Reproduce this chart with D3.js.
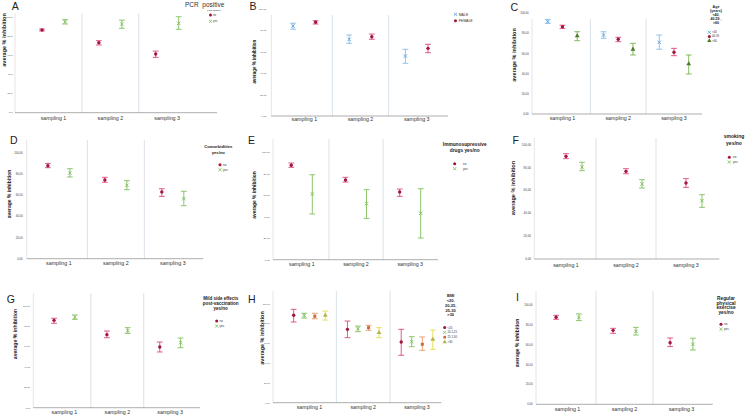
<!DOCTYPE html>
<html>
<head>
<meta charset="utf-8">
<script src="https://cdn.jsdelivr.net/npm/d3@7"></script>
<style>
body{margin:0;background:#fff}
svg{display:block;font-family:"Liberation Sans",Arial,sans-serif}
</style>
</head>
<body>
<svg id="fig" width="745" height="415"></svg>
<script>
// categories and tick values
var samplings = ["sampling 1", "sampling 2", "sampling 3"];
var yTicks = [0, 20, 40, 60, 80, 100];
var yesNo = ["no", "yes"];
var sexLabels = ["MALE", "FEMALE"];
var ageLabels = ["<40", "40-59", ">60"];
var bmiLabels = ["<20", "20.1-25", "25.1-30", ">30"];

// each entry: [mean, lower CI, upper CI] per sampling
var pcrNo = [[86.7, 85.7, 87.7], [73.4, 71, 75.5], [61.5, 58, 64.6]];
var pcrYes = [[95.4, 93, 97.5], [93, 88.5, 97], [93.7, 87.4, 100.6]];
var sexMale = [[84.3, 81.3, 86.9], [71.9, 68.1, 75.9], [56.2, 49.4, 62.5]];
var sexFemale = [[87.8, 86.2, 89.3], [74.3, 71.9, 76.8], [63.4, 59.3, 67.2]];
var ageUnder40 = [[91.7, 90, 94], [78.4, 75.2, 81.7], [71.2, 64.3, 78.4]];
var age40to59 = [[86.7, 85, 88.2], [74.2, 71.8, 76.2], [61.3, 57.9, 65.2]];
var ageOver60 = [[77.5, 72.8, 81.7], [64.2, 58.6, 70.2], [49.7, 39.7, 58.6]];
var comorbNo = [[88, 86.1, 90.1], [74.5, 72.3, 77], [63.1, 59, 66.2]];
var comorbYes = [[81.1, 77.3, 85.1], [69.4, 65.3, 73.8], [56.8, 50.1, 63.8]];
var immunoNo = [[87.9, 86, 90], [74.2, 72.3, 76.7], [63, 59, 65.8]];
var immunoYes = [[61.2, 42.6, 79.1], [52.1, 38.5, 65.2], [43.2, 20.2, 66.1]];
var smokeNo = [[89.8, 87.8, 92.1], [76.7, 74.6, 79], [66.5, 62.7, 70.3]];
var smokeYes = [[80.5, 77.3, 84.6], [65.6, 62.1, 69.4], [51, 45.2, 56.3]];
var sideNo = [[85.9, 83, 87.9], [71.8, 68.8, 75.4], [59.7, 54.8, 64.6]];
var sideYes = [[88.9, 86.9, 91.2], [75.7, 73.1, 78.7], [63.9, 59, 68.5]];
var bmiUnder20 = [[88.3, 81.5, 94.3], [74.1, 65.7, 82.5], [61.3, 47.9, 74.1]];
var bmi20to25 = [[88.3, 85.5, 90.3], [74.7, 71.7, 77.4], [61.6, 56.6, 66.7]];
var bmi25to30 = [[87.3, 84.8, 90.3], [75.8, 73.1, 78.1], [59, 52.9, 66.4]];
var bmiOver30 = [[88.3, 83.5, 92.6], [70.7, 65.7, 75.8], [64, 53.9, 73.4]];
var exerciseNo = [[87.6, 85.6, 89.6], [74.5, 71.5, 76.5], [62, 58.1, 66.8]];
var exerciseYes = [[87.6, 84.3, 91], [73.5, 69.8, 77.5], [60.4, 54.7, 66.5]];

var svg = d3.select("#fig");
var fmt = d3.formatLocale({decimal: ",", thousands: ".", grouping: [3], currency: ["", ""]}).format(".2f");

// marker styles
var red = {sym: d3.symbolCircle, fill: "#a0163e", bar: "#dc4a7e", size: 9};
var green = {sym: d3.symbolX, stroke: "#7fbd5c", bar: "#7fbf5e", size: 9};
var blue = {sym: d3.symbolX, stroke: "#5ea6e2", bar: "#84bdec", size: 9};
var dkgreen = {sym: d3.symbolTriangle, fill: "#4b7a28", bar: "#78b24e", size: 10};
var orange = {sym: d3.symbolSquare, fill: "#cf6a3c", bar: "#e8986c", size: 9};
var yellow = {sym: d3.symbolTriangle, fill: "#b3b64a", bar: "#e3e04a", size: 10};

var panels = [
  {id: "A", series: [pcrNo, pcrYes], names: yesNo, marks: [red, green],
   ax0: 15, ax1: 217, b0: 25.1, b1: 195.6, yTop: 17.3, yBot: 112.7, top: 13, offs: [-11.5, 11.5],
   tickFs: 2.1, tickDx: -2.3, yt: [4, 40, 5.5], catY: 118.3, letter: [11.7, 9.5],
   heading: ["PCR  positive", 185, 6.5, 6.5],
   lg: {title: ["PCR positive"], tx: 214, ty: 10, lh: 3, tfs: 2.4, bold: false, mx: 210.5, lx: 213, ly: 15, ls: 6.3, fs: 2.8}},
  {id: "B", series: [sexMale, sexFemale], names: sexLabels, marks: [blue, red],
   ax0: 271.3, ax1: 448, b0: 276.2, b1: 444.8, yTop: 9.3, yBot: 116, top: 15, offs: [-11.3, 11.3],
   tickFs: 2.4, tickDx: -5, yt: [254, 61.7, 4.5], catY: 119.3, letter: [249.5, 9.5],
   lg: {title: [], mx: 455.5, lx: 458.7, ly: 14.3, ls: 6.4, fs: 3.5}},
  {id: "C", series: [ageUnder40, age40to59, ageOver60], names: ageLabels, marks: [blue, red, dkgreen],
   ax0: 532, ax1: 702, b0: 534.6, b1: 701.9, yTop: 13.3, yBot: 114, top: 19, offs: [-14.7, 0, 14.7],
   tickFs: 2.8, tickDx: -3.3, yt: [514, 55, 5.5], catY: 118.3, letter: [510.5, 10.5],
   lg: {title: ["Age", "(years)", "<40,", "40-59 ,", ">60"], tx: 716, ty: 6.7, lh: 3.9, tfs: 3.6, bold: true,
        mx: 709.3, lx: 712, ly: 32.3, ls: 4.2, fs: 2.8}},
  {id: "D", series: [comorbNo, comorbYes], names: yesNo, marks: [red, green],
   ax0: 26.7, ax1: 203.3, b0: 30.4, b1: 201.3, yTop: 153, yBot: 258.7, top: 140, offs: [-11, 11],
   tickFs: 2.8, tickDx: -4, yt: [9.3, 194, 5], catY: 263, letter: [10, 143.5],
   lg: {title: ["Comorbidities", "yes/no"], tx: 218.3, ty: 146.3, lh: 6, tfs: 4.2, bold: true,
        mx: 220, lx: 223, ly: 164.7, ls: 5, fs: 3}},
  {id: "E", series: [immunoNo, immunoYes], names: yesNo, marks: [red, green],
   ax0: 273, ax1: 438, b0: 274.7, b1: 437.3, yTop: 152.3, yBot: 259.7, top: 139, offs: [-10.5, 10.5],
   tickFs: 2.5, tickDx: -3.3, yt: [254.7, 195, 4.9], catY: 264, letter: [248, 143.5],
   lg: {title: ["Immunosupressive", "drugs yes/no"], tx: 464.7, ty: 144.7, lh: 6, tfs: 4.8, bold: true,
        mx: 454.7, lx: 463, ly: 163.7, ls: 5, fs: 3}},
  {id: "F", series: [smokeNo, smokeYes], names: yesNo, marks: [red, green],
   ax0: 534.3, ax1: 719.3, b0: 536, b1: 716, yTop: 144.7, yBot: 259, top: 138, offs: [0, 16],
   tickFs: 3, tickDx: -3.3, yt: [513.3, 188, 5.6], catY: 264.7, letter: [512.5, 143.5],
   lg: {title: ["smoking", "yes/no"], tx: 734, ty: 136.5, lh: 6.3, tfs: 5, bold: true,
        mx: 729.3, lx: 733, ly: 157.3, ls: 4.7, fs: 3}},
  {id: "G", series: [sideNo, sideYes], names: yesNo, marks: [red, green],
   ax0: 33.3, ax1: 200, b0: 38, b1: 196.6, yTop: 306, yBot: 407.7, top: 293, offs: [-10.4, 10.4],
   tickFs: 2.3, tickDx: -3.3, yt: [15, 334, 5.2], catY: 412.2, letter: [6.7, 302.7],
   lg: {title: ["Mild side effects", "post-vaccination", "yes/no"], tx: 220.7, ty: 298.7, lh: 5, tfs: 4.5, bold: true,
        mx: 216.7, lx: 219.5, ly: 321, ls: 5, fs: 3}},
  {id: "H", series: [bmiUnder20, bmi20to25, bmi25to30, bmiOver30], names: bmiLabels, marks: [red, green, orange, yellow],
   ax0: 273, ax1: 441.3, b0: 282.6, b1: 443.9, yTop: 303.7, yBot: 402.7, top: 291, offs: [-15.8, -5.3, 5.3, 15.8],
   tickFs: 2.3, tickDx: -3.3, yt: [262, 338, 5.5], catY: 406.7, letter: [248, 302.7],
   lg: {title: ["BMI", "<20,", "20-25,", "25-30", ">30"], tx: 450.7, ty: 296, lh: 4.75, tfs: 4, bold: true,
        mx: 444.7, lx: 447.5, ly: 327.6, ls: 4.8, fs: 2.8}},
  {id: "I", series: [exerciseNo, exerciseYes], names: yesNo, marks: [red, green],
   ax0: 536, ax1: 712.7, b0: 539, b1: 710, yTop: 305, yBot: 404.3, top: 291, offs: [-11.4, 11.4],
   tickFs: 2.8, tickDx: -3.3, yt: [517.7, 343, 5], catY: 409.3, letter: [516, 301],
   lg: {title: ["Regular", "physical", "exercise", "yes/no"], tx: 726, ty: 298, lh: 4.9, tfs: 4.8, bold: true,
        mx: 721, lx: 724, ly: 324.3, ls: 5, fs: 3}}
];

function drawMark(g, m, x, y, s) {
  var p = d3.symbol().type(m.sym).size(m.size * (s || 1))();
  var el = g.append("path").attr("d", p).attr("transform", "translate(" + x + "," + y + ")");
  if (m.fill) el.attr("fill", m.fill);
  else el.attr("fill", "none").attr("stroke", m.stroke).attr("stroke-width", 0.9);
}

panels.forEach(function(p) {
  var g = svg.append("g");
  var x = d3.scaleBand().domain(samplings).range([p.b0, p.b1]);
  var y = d3.scaleLinear().domain([0, 100]).range([p.yBot, p.yTop]);

  // category separators
  samplings.slice(1).forEach(function(s) {
    g.append("line").attr("x1", x(s)).attr("x2", x(s)).attr("y1", p.top).attr("y2", p.yBot)
      .attr("stroke", "#d0dae2").attr("stroke-width", 0.8);
  });
  g.append("line").attr("x1", p.ax0).attr("x2", p.ax0).attr("y1", p.top).attr("y2", p.yBot)
    .attr("stroke", "#d4d4d4").attr("stroke-width", 0.6);
  g.append("line").attr("x1", p.ax0).attr("x2", p.ax1).attr("y1", p.yBot).attr("y2", p.yBot)
    .attr("stroke", "#8a8a8a").attr("stroke-width", 0.7);

  // y ticks
  g.selectAll(".yt").data(yTicks).enter().append("text")
    .attr("x", p.ax0 + p.tickDx).attr("y", function(d) { return y(d); })
    .attr("dy", "0.35em").attr("text-anchor", "end")
    .attr("font-size", p.tickFs).attr("fill", "#444")
    .text(function(d) { return fmt(d); });

  // category labels
  g.selectAll(".xl").data(samplings).enter().append("text")
    .attr("x", function(d) { return x(d) + x.bandwidth() / 2; }).attr("y", p.catY)
    .attr("dy", "0.35em").attr("text-anchor", "middle")
    .attr("font-size", 5.3).attr("fill", "#333")
    .text(function(d) { return d; });

  // y title
  g.append("text").attr("transform", "translate(" + p.yt[0] + "," + p.yt[1] + ") rotate(-90)")
    .attr("text-anchor", "middle").attr("dy", "0.35em")
    .attr("font-size", p.yt[2]).attr("font-weight", "bold").attr("fill", "#222")
    .text("average % inhibition");

  // panel letter
  g.append("text").attr("x", p.letter[0]).attr("y", p.letter[1])
    .attr("font-size", 10.5).attr("fill", "#222").text(p.id);

  if (p.heading) {
    g.append("text").attr("x", p.heading[1]).attr("y", p.heading[2])
      .attr("font-size", p.heading[3]).attr("fill", "#333").style("white-space", "pre")
      .text(p.heading[0]);
  }

  // error bars and means
  p.series.forEach(function(ser, k) {
    var m = p.marks[k];
    ser.forEach(function(v, i) {
      var cx = x(samplings[i]) + x.bandwidth() / 2 + p.offs[k];
      var cap = 2.9;
      g.append("line").attr("x1", cx).attr("x2", cx).attr("y1", y(v[1])).attr("y2", y(v[2]))
        .attr("stroke", m.bar).attr("stroke-width", 0.9);
      [v[1], v[2]].forEach(function(e) {
        g.append("line").attr("x1", cx - cap).attr("x2", cx + cap).attr("y1", y(e)).attr("y2", y(e))
          .attr("stroke", m.bar).attr("stroke-width", 0.9);
      });
      drawMark(g, m, cx, y(v[0]));
    });
  });

  // legend
  var lg = p.lg;
  lg.title.forEach(function(t, i) {
    g.append("text").attr("x", lg.tx).attr("y", lg.ty + i * lg.lh).attr("dy", "0.35em")
      .attr("text-anchor", "middle").attr("font-size", lg.tfs)
      .attr("font-weight", lg.bold ? "bold" : "normal").attr("fill", "#222").text(t);
  });
  p.names.forEach(function(n, k) {
    var ly = lg.ly + k * lg.ls;
    drawMark(g, p.marks[k], lg.mx, ly, 0.8);
    g.append("text").attr("x", lg.lx).attr("y", ly).attr("dy", "0.35em")
      .attr("font-size", lg.fs).attr("fill", "#333").text(n);
  });
});
</script>
</body>
</html>
